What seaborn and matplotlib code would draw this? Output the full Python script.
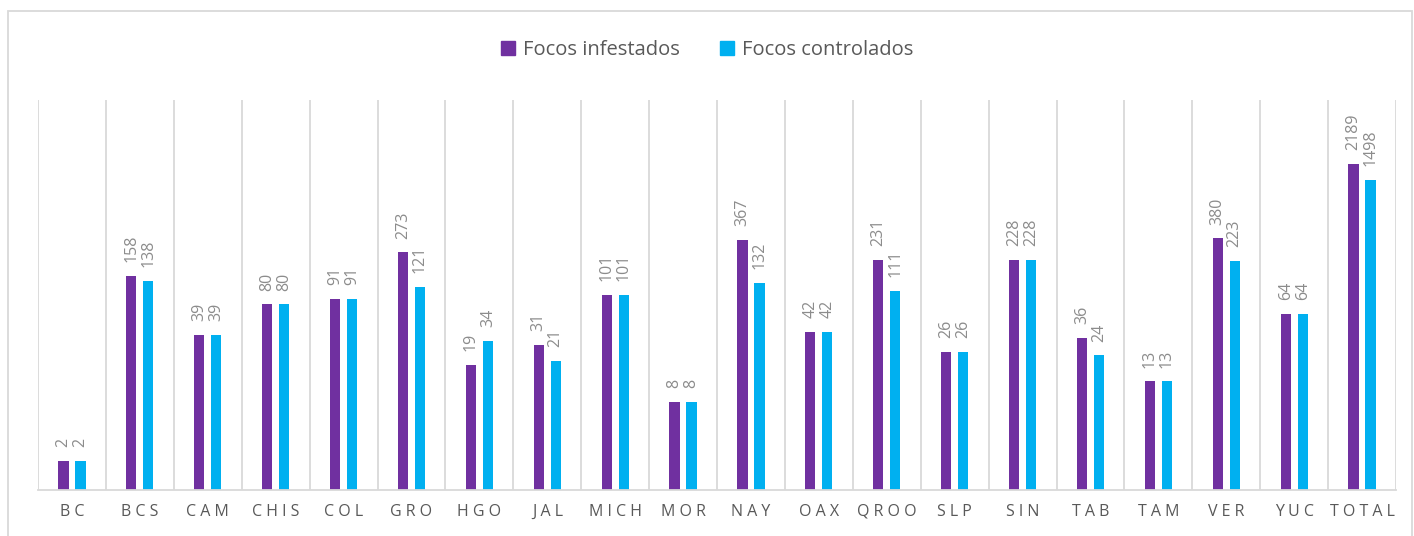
import pandas as pd
import matplotlib.pyplot as plt
import seaborn as sns
from matplotlib.patches import Rectangle, Patch

# ------------------------------------
# Data
# ------------------------------------

estados = ['BC', 'BCS', 'CAM', 'CHIS', 'COL', 'GRO', 'HGO', 'JAL', 'MICH', 'MOR',
           'NAY', 'OAX', 'QROO', 'SLP', 'SIN', 'TAB', 'TAM', 'VER', 'YUC', 'TOTAL']
infestados = [2, 158, 39, 80, 91, 273, 19, 31, 101, 8,
              367, 42, 231, 26, 228, 36, 13, 380, 64, 2189]
controlados = [2, 138, 39, 80, 91, 121, 34, 21, 101, 8,
               132, 42, 111, 26, 228, 24, 13, 223, 64, 1498]
series = ['Focos infestados', 'Focos controlados']
colores = ['#7030A0', '#00B0F0']

df = pd.DataFrame({
    'Estado': estados * 2,
    'Serie': [series[0]] * len(estados) + [series[1]] * len(estados),
    'Focos': infestados + controlados,
})

# ------------------------------------
# Plot
# ------------------------------------

sns.set_style('white')
plt.rcParams['font.family'] = ['Open Sans', 'DejaVu Sans']

fig = plt.figure(figsize=(14.14, 5.36), dpi=100)
ax = fig.add_axes([38 / 1414, 46 / 536, 1358 / 1414, 390 / 536])

sns.barplot(data=df, x='Estado', y='Focos', hue='Serie', hue_order=series,
            palette=colores, saturation=1, width=0.5, gap=0.4,
            linewidth=0, legend=False, ax=ax)

ax.set_yscale('log')
ax.set_ylim(1, 10000)
ax.set_xlim(-0.5, len(estados) - 0.5)

for cont in ax.containers:
    ax.bar_label(cont, rotation=90, padding=10, color='#8C8C8C', fontsize=11.5)

# vertical gridlines between categories
ax.set_xticks([i - 0.5 for i in range(len(estados) + 1)], minor=True)
ax.grid(which='minor', axis='x', color='#D9D9D9', linewidth=1.3)
ax.tick_params(which='both', length=0)
ax.set_yticks([])
ax.set_xticks(range(len(estados)))
ax.set_xticklabels([' '.join(e) for e in estados], color='#595959', fontsize=11.5)
ax.tick_params(axis='x', pad=10)
ax.set_xlabel('')
ax.set_ylabel('')

for s in ['top', 'left', 'right']:
    ax.spines[s].set_visible(False)
ax.spines['bottom'].set_color('#D9D9D9')
ax.spines['bottom'].set_linewidth(1.3)

handles = [Patch(color=c, label=s) for c, s in zip(colores, series)]
fig.legend(handles=handles, loc='center', bbox_to_anchor=(0.5, 1 - 50 / 536),
           ncol=2, frameon=False, fontsize=14.5, handlelength=0.7, handleheight=0.7,
           handletextpad=0.4, columnspacing=2.0, labelcolor='#595959')

# chart border
fig.patches.append(Rectangle((8 / 1414, -0.01), 1404 / 1414, 1 - 11 / 536 + 0.01,
                             transform=fig.transFigure, fill=False,
                             edgecolor='#D9D9D9', linewidth=1.3))

plt.savefig('out.png', dpi=100)
